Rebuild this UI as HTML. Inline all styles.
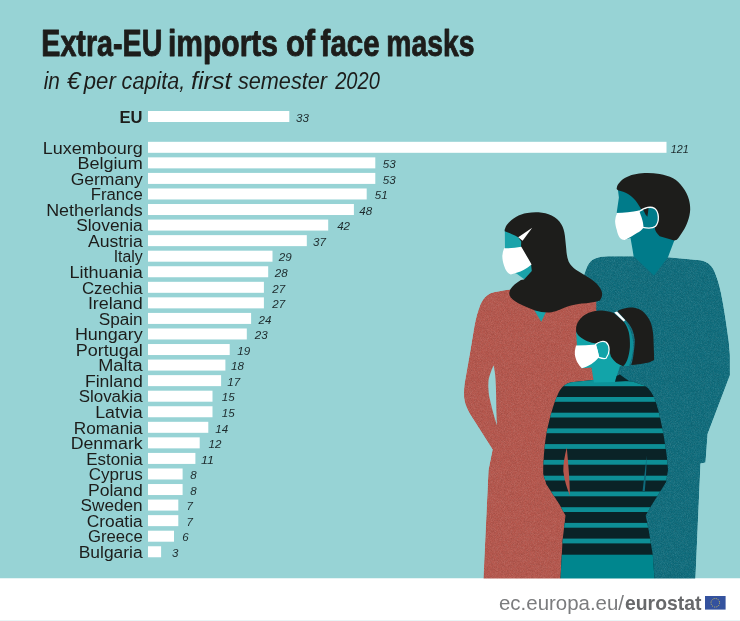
<!DOCTYPE html>
<html><head><meta charset="utf-8"><title>Extra-EU imports of face masks</title>
<style>
html,body{margin:0;padding:0;background:#fff}
body{width:740px;height:621px;overflow:hidden}
svg{display:block}
text{font-family:"Liberation Sans",sans-serif}
.t{font-weight:bold;font-size:37px;fill:#1d1d1b;stroke:#1d1d1b;stroke-width:0.9px;stroke-linejoin:round}
.s{font-style:italic;font-size:23.5px;fill:#1d1d1b}
.l{font-size:16px;fill:#1d1d1b}
.eu{font-size:16px;font-weight:bold;fill:#1d1d1b}
.v{font-size:11.8px;font-style:italic;fill:#1d2a2c}
.f1{font-size:20.5px;fill:#7b7c7e}
.f2{font-size:20.5px;font-weight:bold;fill:#68696b}
</style></head><body>
<svg width="740" height="621" viewBox="0 0 740 621">
<rect width="740" height="621" fill="#fff"/>
<rect width="740" height="578.5" fill="#97d3d5"/>
<text x="41.3" y="56.3" class="t" textLength="121.1" lengthAdjust="spacingAndGlyphs">Extra-EU</text>
<text x="168.0" y="56.3" class="t" textLength="110.0" lengthAdjust="spacingAndGlyphs">imports</text>
<text x="285.9" y="56.3" class="t" textLength="29.2" lengthAdjust="spacingAndGlyphs">of</text>
<text x="320.6" y="56.3" class="t" textLength="59" lengthAdjust="spacingAndGlyphs">face</text>
<text x="386.3" y="56.3" class="t" textLength="88.2" lengthAdjust="spacingAndGlyphs">masks</text>
<text x="43.7" y="88.5" class="s" textLength="16.2" lengthAdjust="spacingAndGlyphs">in</text>
<text x="66.8" y="88.5" class="s" textLength="13.8" lengthAdjust="spacingAndGlyphs">€</text>
<text x="83.8" y="88.5" class="s" textLength="32.0" lengthAdjust="spacingAndGlyphs">per</text>
<text x="121.6" y="88.5" class="s" textLength="63.6" lengthAdjust="spacingAndGlyphs">capita,</text>
<text x="190.9" y="88.5" class="s" textLength="40.6" lengthAdjust="spacingAndGlyphs">first</text>
<text x="237.9" y="88.5" class="s" textLength="89.2" lengthAdjust="spacingAndGlyphs">semester</text>
<text x="335.2" y="88.5" class="s" textLength="44.6" lengthAdjust="spacingAndGlyphs">2020</text>
<rect x="148" y="111" width="141.3" height="11" fill="#fff"/>
<text x="142.5" y="122.9" text-anchor="end" class="eu" textLength="23" lengthAdjust="spacingAndGlyphs">EU</text>
<text x="302.4" y="122" class="v" text-anchor="middle" textLength="12.9" lengthAdjust="spacingAndGlyphs">33</text>
<rect x="148" y="141.80" width="518.5" height="11" fill="#fff"/>
<text x="142.7" y="153.50" text-anchor="end" class="l" textLength="100.0" lengthAdjust="spacingAndGlyphs">Luxembourg</text>
<text x="679.7" y="152.50" class="v" text-anchor="middle" textLength="18" lengthAdjust="spacingAndGlyphs">121</text>
<rect x="148" y="157.36" width="227.3" height="11" fill="#fff"/>
<text x="142.7" y="169.06" text-anchor="end" class="l" textLength="65.2" lengthAdjust="spacingAndGlyphs">Belgium</text>
<text x="389.2" y="168.06" class="v" text-anchor="middle" textLength="12.9" lengthAdjust="spacingAndGlyphs">53</text>
<rect x="148" y="172.91" width="227.3" height="11" fill="#fff"/>
<text x="142.7" y="184.61" text-anchor="end" class="l" textLength="72.0" lengthAdjust="spacingAndGlyphs">Germany</text>
<text x="389.2" y="183.61" class="v" text-anchor="middle" textLength="12.9" lengthAdjust="spacingAndGlyphs">53</text>
<rect x="148" y="188.47" width="218.7" height="11" fill="#fff"/>
<text x="142.7" y="200.17" text-anchor="end" class="l" textLength="52.0" lengthAdjust="spacingAndGlyphs">France</text>
<text x="381.2" y="199.17" class="v" text-anchor="middle" textLength="12.9" lengthAdjust="spacingAndGlyphs">51</text>
<rect x="148" y="204.02" width="205.9" height="11" fill="#fff"/>
<text x="142.7" y="215.72" text-anchor="end" class="l" textLength="96.5" lengthAdjust="spacingAndGlyphs">Netherlands</text>
<text x="365.7" y="214.72" class="v" text-anchor="middle" textLength="12.9" lengthAdjust="spacingAndGlyphs">48</text>
<rect x="148" y="219.58" width="180.2" height="11" fill="#fff"/>
<text x="142.7" y="231.28" text-anchor="end" class="l" textLength="66.5" lengthAdjust="spacingAndGlyphs">Slovenia</text>
<text x="343.6" y="230.28" class="v" text-anchor="middle" textLength="12.9" lengthAdjust="spacingAndGlyphs">42</text>
<rect x="148" y="235.14" width="158.8" height="11" fill="#fff"/>
<text x="142.7" y="246.84" text-anchor="end" class="l" textLength="54.8" lengthAdjust="spacingAndGlyphs">Austria</text>
<text x="319.5" y="245.84" class="v" text-anchor="middle" textLength="12.9" lengthAdjust="spacingAndGlyphs">37</text>
<rect x="148" y="250.69" width="124.5" height="11" fill="#fff"/>
<text x="142.7" y="262.39" text-anchor="end" class="l" textLength="29.0" lengthAdjust="spacingAndGlyphs">Italy</text>
<text x="285.2" y="261.39" class="v" text-anchor="middle" textLength="12.9" lengthAdjust="spacingAndGlyphs">29</text>
<rect x="148" y="266.25" width="120.2" height="11" fill="#fff"/>
<text x="142.7" y="277.95" text-anchor="end" class="l" textLength="73.2" lengthAdjust="spacingAndGlyphs">Lithuania</text>
<text x="281.2" y="276.95" class="v" text-anchor="middle" textLength="12.9" lengthAdjust="spacingAndGlyphs">28</text>
<rect x="148" y="281.80" width="115.9" height="11" fill="#fff"/>
<text x="142.7" y="293.50" text-anchor="end" class="l" textLength="60.8" lengthAdjust="spacingAndGlyphs">Czechia</text>
<text x="278.7" y="292.50" class="v" text-anchor="middle" textLength="12.9" lengthAdjust="spacingAndGlyphs">27</text>
<rect x="148" y="297.36" width="115.9" height="11" fill="#fff"/>
<text x="142.7" y="309.06" text-anchor="end" class="l" textLength="54.8" lengthAdjust="spacingAndGlyphs">Ireland</text>
<text x="278.7" y="308.06" class="v" text-anchor="middle" textLength="12.9" lengthAdjust="spacingAndGlyphs">27</text>
<rect x="148" y="312.92" width="103.1" height="11" fill="#fff"/>
<text x="142.7" y="324.62" text-anchor="end" class="l" textLength="44.0" lengthAdjust="spacingAndGlyphs">Spain</text>
<text x="265.0" y="323.62" class="v" text-anchor="middle" textLength="12.9" lengthAdjust="spacingAndGlyphs">24</text>
<rect x="148" y="328.47" width="98.8" height="11" fill="#fff"/>
<text x="142.7" y="340.17" text-anchor="end" class="l" textLength="67.8" lengthAdjust="spacingAndGlyphs">Hungary</text>
<text x="261.2" y="339.17" class="v" text-anchor="middle" textLength="12.9" lengthAdjust="spacingAndGlyphs">23</text>
<rect x="148" y="344.03" width="81.7" height="11" fill="#fff"/>
<text x="142.7" y="355.73" text-anchor="end" class="l" textLength="67.0" lengthAdjust="spacingAndGlyphs">Portugal</text>
<text x="243.7" y="354.73" class="v" text-anchor="middle" textLength="12.9" lengthAdjust="spacingAndGlyphs">19</text>
<rect x="148" y="359.58" width="77.4" height="11" fill="#fff"/>
<text x="142.7" y="371.28" text-anchor="end" class="l" textLength="44.5" lengthAdjust="spacingAndGlyphs">Malta</text>
<text x="237.5" y="370.28" class="v" text-anchor="middle" textLength="12.9" lengthAdjust="spacingAndGlyphs">18</text>
<rect x="148" y="375.14" width="73.1" height="11" fill="#fff"/>
<text x="142.7" y="386.84" text-anchor="end" class="l" textLength="57.8" lengthAdjust="spacingAndGlyphs">Finland</text>
<text x="233.7" y="385.84" class="v" text-anchor="middle" textLength="12.9" lengthAdjust="spacingAndGlyphs">17</text>
<rect x="148" y="390.70" width="64.5" height="11" fill="#fff"/>
<text x="142.7" y="402.40" text-anchor="end" class="l" textLength="64.0" lengthAdjust="spacingAndGlyphs">Slovakia</text>
<text x="228.2" y="401.40" class="v" text-anchor="middle" textLength="12.9" lengthAdjust="spacingAndGlyphs">15</text>
<rect x="148" y="406.25" width="64.5" height="11" fill="#fff"/>
<text x="142.7" y="417.95" text-anchor="end" class="l" textLength="47.5" lengthAdjust="spacingAndGlyphs">Latvia</text>
<text x="228.2" y="416.95" class="v" text-anchor="middle" textLength="12.9" lengthAdjust="spacingAndGlyphs">15</text>
<rect x="148" y="421.81" width="60.3" height="11" fill="#fff"/>
<text x="142.7" y="433.51" text-anchor="end" class="l" textLength="69.0" lengthAdjust="spacingAndGlyphs">Romania</text>
<text x="221.8" y="432.51" class="v" text-anchor="middle" textLength="12.9" lengthAdjust="spacingAndGlyphs">14</text>
<rect x="148" y="437.36" width="51.7" height="11" fill="#fff"/>
<text x="142.7" y="449.06" text-anchor="end" class="l" textLength="72.0" lengthAdjust="spacingAndGlyphs">Denmark</text>
<text x="214.9" y="448.06" class="v" text-anchor="middle" textLength="12.9" lengthAdjust="spacingAndGlyphs">12</text>
<rect x="148" y="452.92" width="47.4" height="11" fill="#fff"/>
<text x="142.7" y="464.62" text-anchor="end" class="l" textLength="56.5" lengthAdjust="spacingAndGlyphs">Estonia</text>
<text x="207.4" y="463.62" class="v" text-anchor="middle" textLength="12.9" lengthAdjust="spacingAndGlyphs">11</text>
<rect x="148" y="468.48" width="34.6" height="11" fill="#fff"/>
<text x="142.7" y="480.18" text-anchor="end" class="l" textLength="54.0" lengthAdjust="spacingAndGlyphs">Cyprus</text>
<text x="193.5" y="479.18" class="v" text-anchor="middle" textLength="6.4" lengthAdjust="spacingAndGlyphs">8</text>
<rect x="148" y="484.03" width="34.6" height="11" fill="#fff"/>
<text x="142.7" y="495.73" text-anchor="end" class="l" textLength="54.8" lengthAdjust="spacingAndGlyphs">Poland</text>
<text x="193.5" y="494.73" class="v" text-anchor="middle" textLength="6.4" lengthAdjust="spacingAndGlyphs">8</text>
<rect x="148" y="499.59" width="30.3" height="11" fill="#fff"/>
<text x="142.7" y="511.29" text-anchor="end" class="l" textLength="62.2" lengthAdjust="spacingAndGlyphs">Sweden</text>
<text x="189.8" y="510.29" class="v" text-anchor="middle" textLength="6.4" lengthAdjust="spacingAndGlyphs">7</text>
<rect x="148" y="515.14" width="30.3" height="11" fill="#fff"/>
<text x="142.7" y="526.84" text-anchor="end" class="l" textLength="56.0" lengthAdjust="spacingAndGlyphs">Croatia</text>
<text x="189.8" y="525.84" class="v" text-anchor="middle" textLength="6.4" lengthAdjust="spacingAndGlyphs">7</text>
<rect x="148" y="530.70" width="26.0" height="11" fill="#fff"/>
<text x="142.7" y="542.40" text-anchor="end" class="l" textLength="54.8" lengthAdjust="spacingAndGlyphs">Greece</text>
<text x="185.4" y="541.40" class="v" text-anchor="middle" textLength="6.4" lengthAdjust="spacingAndGlyphs">6</text>
<rect x="148" y="546.26" width="13.1" height="11" fill="#fff"/>
<text x="142.7" y="557.96" text-anchor="end" class="l" textLength="64.0" lengthAdjust="spacingAndGlyphs">Bulgaria</text>
<text x="175.3" y="556.96" class="v" text-anchor="middle" textLength="6.4" lengthAdjust="spacingAndGlyphs">3</text>
<g id="illo">
<filter id="grain" x="0" y="0" width="1" height="1" color-interpolation-filters="sRGB">
<feTurbulence type="fractalNoise" baseFrequency="1.3" numOctaves="2" seed="4" result="n"/>
<feColorMatrix in="n" type="matrix" values="0 0 0 0 1  0 0 0 0 1  0 0 0 0 1  0.24 0 0 0 -0.09" result="w"/>
<feColorMatrix in="n" type="matrix" values="0 0 0 0 0  0 0 0 0 0  0 0 0 0 0  0 -0.22 0 0 0.135" result="k"/>
<feMerge result="m"><feMergeNode in="SourceGraphic"/><feMergeNode in="w"/><feMergeNode in="k"/></feMerge>
<feComposite in="m" in2="SourceAlpha" operator="in"/>
</filter>
<!-- man body -->
<path d="M578,320 C579,300 581,285 584.4,274 C585.3,271 586.2,268.5 587.3,266.2 C589,262.5 591.5,260 595.1,258.4 C599,256.8 603.5,256.3 608.4,256.2 L633.6,256.2 L668,257.2 L700,260.3 C707,261.5 711,264.5 714,270.5 C717,277 719.3,285 721,293 C724,308 726.5,325 728.8,342 L729.9,355 L729.9,375.3 L707.6,434 L705.5,462.4 L700.5,463.4 L695.4,579 L578,579 Z" fill="#0e6c7c" filter="url(#grain)"/>
<!-- man face + neck -->
<path d="M617.6,187 L618.9,197.4 L616.8,212 L617,228 L624.9,239.6 L630.5,238 L632.5,249.3 L633.6,256.2 L653.9,275.5 L668,257.2 L674.3,240.4 L684,205 L650,180 Z" fill="#007b8a"/>
<!-- man hair -->
<path d="M616.6,188.9 C617,186 618,184 619.6,182.6 C621.5,180 624,178.3 626.9,177.1 C630,175.5 633,174.6 636.6,174.1 C640,173.4 643.5,173.1 647.6,173.1 C651.5,173.2 655.5,173.5 659.7,174.1 C664.5,175 669,176.3 673.1,178.3 C677,180.5 680.3,183.5 682.9,187.5 C685.7,191 687.7,195 688.9,199.6 C689.8,202.8 690.2,206 690.2,209.4 C690,213.5 689.2,217.5 687.7,221.5 C686.5,225 685,228.3 682.9,231.3 C681,234.5 679,237.5 676.8,239.8 L674.3,240.4 L659.7,236.3 C657,233.5 655.5,231.5 654.9,229 L656,214 L645,208.5 L641.2,209.5 C639.5,206 637.5,203 635.5,200.5 C633,197.6 630.5,195.5 628,194 C625,192.3 621.5,191.2 618,190.3 Z" fill="#1d1d1b"/>
<!-- man ear loop -->
<path d="M634,214 L639.5,211.2 C644,208.3 650.5,206.2 654.5,208.3 C659.3,212 659.6,221.5 655.5,226.3 C652.5,228.6 648,228.4 642.5,227.3 L636,226 Z" fill="#007b8a" stroke="#fff" stroke-width="1.3"/>
<path d="M643.2,209.8 L648.6,208 L647.4,216.8 L645.5,214.5 Z" fill="#1d1d1b"/>
<!-- man mask -->
<path d="M616.2,213 C624,213 632,212.3 639.2,210.6 C640.3,214.5 641.3,216.5 641.9,218.5 C643,222 643.4,225 643.5,227.4 C641.8,229.8 639.8,231.5 637,233.1 C633,235.6 629,238 624.9,239.9 C623,240 621.3,239.3 620,238 C618.3,235.5 617.4,233 616.8,229.9 C615.8,226.8 615.2,224 615.1,220.9 C615.3,218.3 615.9,215.9 616.8,213.6 Z" fill="#fff"/>

<!-- woman dress -->
<path d="M520,286 L510.8,289.3 C503,290.5 496,291.3 490.5,293.3 C486,295.5 482.5,299.5 480.4,304.5 C477.6,311.5 475.6,319.5 474.3,326.8 L470.3,351 L464.6,383.5 C463.8,390 463.6,396 464.6,401 C465.6,405.5 467.5,409.5 470,414 L492.6,449.5 L488.5,470 L483.4,579 L596.5,579 L596.5,296 Z" fill="#b5564c" filter="url(#grain)"/>
<!-- arm gap -->
<path d="M493.6,365.3 C491.5,370 489.6,375 488.5,380 C487.8,388 488.8,396 490.5,402 C492.3,410 494.6,418 497,425.6 C496.5,417 496.3,408 496.2,400 C496.1,393 496,386 495.6,380 C495.2,374 494.5,369 493.6,365.3 Z" fill="#97d3d5"/>
<!-- v neck -->
<path d="M533,308 L546.5,311 L541.2,321.7 Z" fill="#1aa3aa"/>
<!-- woman face -->
<path d="M504.8,229 L505,249 L504,255 L508,270 L516.8,273.8 L524.9,279.8 L534,271 L534,240 L518,231 Z" fill="#1aa3aa"/>
<!-- woman hair -->
<path d="M504.7,230 C505.3,227.5 506.2,225.5 507.8,223.8 C510,221 512.5,218.8 515.9,217 C519.5,214.8 523,213.7 527.3,213 C531,212.2 534.5,212 538.6,212.2 C543.5,212.6 547.5,213.5 551.6,215.4 C556,217.5 559,220.2 561.3,224.3 C563.3,227.7 564.3,231.3 564.9,235.7 L566.2,248.6 C566.5,253 567,257.5 568.6,261.6 C570.3,265 572.8,267.5 575.9,269.7 L588.9,277.8 C592.6,280.2 596,282.8 598.6,285.9 C600.8,288.6 602,291.2 602.2,294.1 C602.1,296.4 601.4,298.5 600,300.4 C594.5,302.3 588,303 581.8,303.4 C577,304 572,305 567.6,306.5 C562.5,308.5 557,311.2 551.4,312.3 C546,312.8 540.5,312.2 535.1,310.5 C530,308.2 525,306.7 520.9,304.5 C516.8,302.5 513,300.2 510.8,297.4 C509.4,295.7 509,294 509.4,292.3 C509.8,290 511,288 512.8,286.2 C515,284 518,282 520.9,280.1 L524,279.5 L531.8,271 L531,264 L521,247.5 L521.2,241.5 L518.1,237.2 C516,235.8 514,234.8 512,234.2 C509.5,233 507,232 504.7,231.2 Z" fill="#1d1d1b"/>
<!-- woman mask -->
<path d="M504.1,248.2 C510,248.3 516,247.9 521.3,246.8 C524.5,252.5 528.3,258.5 531.6,264.6 C529,266.8 526.5,268.6 523.5,270 C519.5,272 515.5,273.5 510.8,274.4 C509.3,273.8 508.2,273 507.2,271.9 C505.7,270 504.8,268 504.1,265.8 C503,262.6 502.4,259.5 502.3,256.1 C502.5,253.3 503.1,250.7 504.1,248.2 Z" fill="#fff"/>
<path d="M518.2,237.2 L532.2,227.8 L522.6,240.8 Z" fill="#fff"/>

<!-- girl -->
<clipPath id="shirt"><path d="M593,380 L571,382.2 C568,383 565.5,384.3 563.5,386.1 C561,388.3 559.3,391 558,394 C555.3,400 553.2,406 551.4,412.4 C548.8,421.5 546.6,431 545.3,440.8 C544.2,449.5 543.5,458.5 543.2,467.2 L543.2,474 L546.3,484.2 L559.5,504.5 L565.5,515.6 L562.5,541 L560.5,579 L654.5,579 L652.8,555.1 L648.8,530.8 L645.7,515.6 L650.8,506.5 L666,482.2 L668,470 C667.6,461 666.4,452.5 665,444.2 C664,436.5 662.6,429 661,421.9 C659.4,414 657.4,406.5 654.9,399.6 C653,394 649.5,388.8 644.7,385.4 L633,381.8 L616,380 Z"/></clipPath>
<g clip-path="url(#shirt)">
<rect x="540" y="378" width="132" height="202" fill="#0a2327"/>
<rect x="540" y="378" width="132" height="8.2" fill="#0d9399"/>
<g fill="#0d8f96">
<rect x="540" y="397" width="132" height="4.8"/>
<rect x="540" y="412.7" width="132" height="4.8"/>
<rect x="540" y="428.4" width="132" height="4.8"/>
<rect x="540" y="444.1" width="132" height="4.8"/>
<rect x="540" y="459.9" width="132" height="4.8"/>
<rect x="540" y="475.7" width="132" height="4.8"/>
<rect x="540" y="491.5" width="132" height="4.8"/>
<rect x="540" y="507.2" width="132" height="4.8"/>
<rect x="540" y="522.9" width="132" height="4.8"/>
<rect x="540" y="538.6" width="132" height="4.8"/>
</g>
<rect x="540" y="554.7" width="132" height="26" fill="#00868e"/>
</g>
<!-- arm gaps -->
<path d="M566.8,447.5 C564.6,456 563.2,463.5 563.3,471.2 C564.4,480 566.8,488 569.9,495.6 C569.8,487 569.4,479 568.8,471.2 C568.2,463 567.5,455.5 566.8,447.5 Z" fill="#b5564c"/>
<path d="M646.6,455.5 C645.3,468 644,479 642.6,491 L644.8,491 C645.9,479 646.6,468 646.6,455.5 Z" fill="#0f6b7c"/>
<!-- girl face + neck -->
<path d="M576.1,331 L576.9,344.5 L575,355 L581.8,368.3 L591.5,367.5 L593.9,382.6 L615,382 L619.9,366.3 L623.5,366 L626,340 L600,330 Z" fill="#12a4a9"/>
<path d="M616.6,376.1 L619.9,374.5 L628.8,381 L615,381.8 Z" fill="#0a2327"/>
<!-- strip -->
<path d="M622,318 C628,324 632,332 633,341 C633.6,350 632,359 629,366 L624,366 L627,340 Z" fill="#0e8f99"/>
<!-- ponytail -->
<path d="M617.4,311.2 C619.3,310 621,309.2 623.1,308.8 C626.5,308 629.5,307.5 632.8,307.6 C636.5,308 639.8,309.2 642.6,311.2 C646.3,314.3 648.9,318 650.7,322.6 C652.3,327.3 653.1,332 653.4,337.2 L654.2,359.9 C651.5,361.5 648.8,362.5 645.8,363.1 C641,364.2 636,364.8 631.2,365 C632.5,361 633.2,357.3 633.6,353.4 C634.3,349 634.7,344.8 634.8,340.4 C634.4,336.3 633.5,332.5 632,329 C630.6,326 628.7,323.3 626.4,320.9 Z" fill="#1d1d1b"/>
<!-- girl hair -->
<path d="M576.1,327.4 C576.4,325.6 576.9,324 577.7,322.6 C579.3,319.7 581.5,317.3 584.2,315.3 C587,313.3 590.2,312 593.9,311.2 C597,310.6 600.2,310.4 603.6,310.7 C607,311 610.3,311.7 613.4,312.8 L623.9,321.8 C626.2,325 627.8,328.5 628.8,332.3 C629.8,337 630.1,342 629.9,346.9 C629.5,351.5 628.7,356 627.2,359.9 C626.2,362.4 624.9,364.5 623.1,366.3 C620.8,365.5 618.7,364.5 616.6,363.1 C614.4,361.3 612.5,359.2 610.9,356.6 L608,346 L596.3,343.6 C593.3,343 590.3,342.3 587.4,341.2 C584.5,340 581.8,338.4 579.3,336.3 C577.8,334.9 576.7,333.3 576.1,331.5 Z" fill="#1d1d1b"/>
<path d="M614.2,312.5 L617,311.5 L625.4,320.2 L623.6,321.6 Z" fill="#fff"/>
<!-- girl ear loop -->
<path d="M595.5,344.5 C598,342 603,340.3 606.2,342.3 C610.2,346 610,353 606.1,358.2 C604,359.2 601,358.2 598.8,357.4 Z" fill="#12a4a9" stroke="#fff" stroke-width="1.2"/>
<!-- girl mask -->
<path d="M576.1,345.6 C582.5,345.6 589,345.3 595.5,344.5 C596.4,346.4 597,348.2 597.5,350.1 C598.2,352.5 598.6,355 598.8,357.4 C596.6,359.8 594.2,362 591.5,363.9 C588.5,365.8 585.3,367.3 581.8,368.3 C580.2,366.8 578.8,365 577.7,363.1 C576.2,360.3 575.2,357.3 574.8,354.2 C574.8,351.2 575.2,348.3 576.1,345.6 Z" fill="#fff"/>
</g>
<rect x="0" y="578.5" width="740" height="43" fill="#fff"/>

<text x="499" y="609.5" class="f1" textLength="125" lengthAdjust="spacingAndGlyphs">ec.europa.eu/</text>
<text x="625" y="609.5" class="f2" textLength="76.5" lengthAdjust="spacingAndGlyphs">eurostat</text>
<rect x="705" y="596" width="20.6" height="13.6" fill="#34529e"/>
<circle cx="715.3" cy="602.8" r="4.3" fill="none" stroke="#e8cf4a" stroke-width="1" stroke-dasharray="0.9 1.35"/>
<rect x="0" y="620" width="740" height="1" fill="#e9f4f5"/>
</svg>
</body></html>
